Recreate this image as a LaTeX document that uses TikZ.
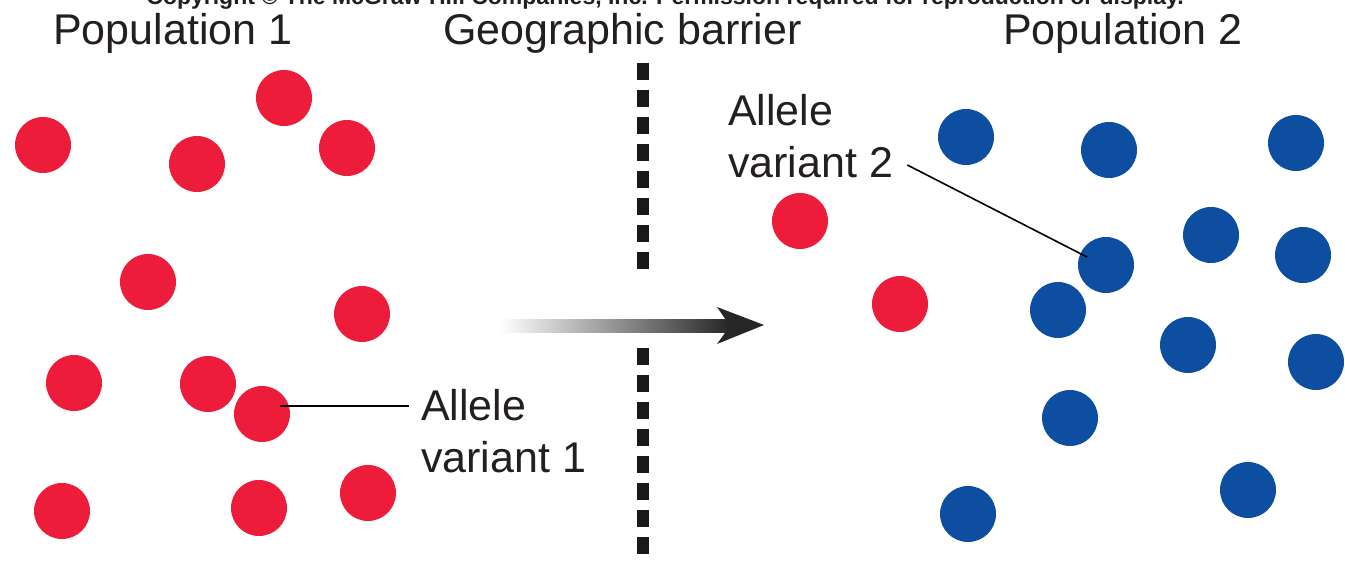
\documentclass[tikz,border=0pt]{standalone}
\usepackage{fontspec}
\setmainfont{Liberation Sans}
\usetikzlibrary{shapes.geometric,calc}
\definecolor{popred}{RGB}{236,28,58}
\definecolor{popblue}{RGB}{14,78,160}
\definecolor{inkgray}{RGB}{35,31,32}
\tikzset{
  reddot/.style={circle, fill=popred, minimum size=56pt, inner sep=0pt},
  bluedot/.style={circle, fill=popblue, minimum size=56pt, inner sep=0pt},
  bigtext/.style={anchor=base west, inner sep=0pt, text=inkgray, font=\fontsize{43}{50}\selectfont},
  leader/.style={draw=black, line width=1.6pt},
  barrier/.style={draw=black!90, line width=12pt, dash pattern=on 17pt off 10pt},
}
\begin{document}
\begin{tikzpicture}[x=1pt,y=-1pt]
\useasboundingbox (0,0) rectangle (1345,588);
\fill[white] (0,0) rectangle (1345,588);
% copyright line (cut off at top, as in the reference)
\node[anchor=base, inner sep=0pt, text=inkgray, font=\bfseries\fontsize{23}{27}\selectfont] (copy) at (665,5) {Copyright \textcopyright\ The McGraw-Hill Companies, Inc. Permission required for reproduction or display.};
% headings
\node[bigtext] (pop1) at (53,45) {Population 1};
\node[bigtext] (geo) at (443,45) {Geographic barrier};
\node[bigtext] (pop2) at (1003,45) {Population 2};
% barrier
\draw[barrier] (643,63) -- (643,278);
\draw[barrier] (643,348) -- (643,563);
% gradient arrow
\shade[left color=white, right color=black!85] (500,320) rectangle (730,332);
\fill[black!85] (764,325) -- (717,307) -- (730,326) -- (717,344) -- cycle;
% population 1
\foreach \n/\x/\y in {a/43/145, b/197/164, c/284/98, d/347/148, e/148/282, f/362/314, g/74/383, h/208/384, i/262/414, j/62/511, k/259/508, l/368/493}
  \node[reddot] (r\n) at (\x,\y) {};
% migrants
\node[reddot] (m1) at (800,221) {};
\node[reddot] (m2) at (900,304) {};
% population 2
\foreach \n/\x/\y in {a/966/137, b/1109/150, c/1296/143, d/1211/235, e/1303/255, f/1058/310, g/1106/265, h/1188/345, i/1316/362, j/1070/418, k/968/514, l/1248/490}
  \node[bluedot] (b\n) at (\x,\y) {};
% labels
\node[bigtext] (al1) at (421,420) {Allele};
\node[bigtext] (va1) at (421,472) {variant 1};
\node[bigtext] (al2) at (728,126) {Allele};
\node[bigtext] (va2) at (728,178) {variant 2};
\coordinate (p1) at ($(ri)+(18,-8)$);
\coordinate (p2) at ($(bg)+(-19,-8)$);
\coordinate (e1) at ($(al1.west)+(-12,0)$);
\coordinate (s2) at ($(va2.base east)+(14,-13)$);
\draw[leader] (p1) -- (e1 |- p1);
\draw[leader] (s2) -- (p2);
\end{tikzpicture}
\end{document}
